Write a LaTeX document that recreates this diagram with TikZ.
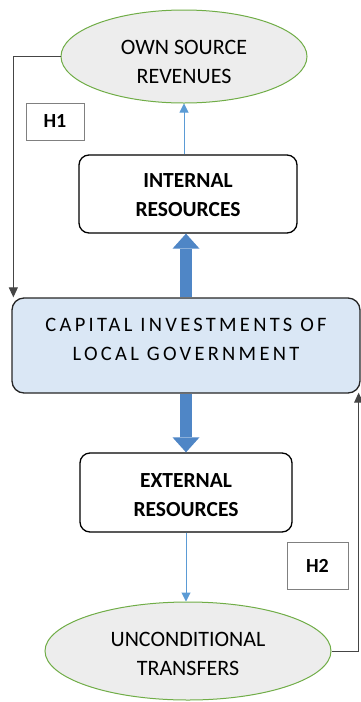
\documentclass[tikz,border=0pt]{standalone}
\usepackage{fontspec}
\setmainfont{Carlito}
\newfontfamily\handfont[LetterSpace=16]{Carlito}
\usetikzlibrary{arrows.meta,shapes.geometric}

\definecolor{ovalfill}{HTML}{EDEDED}
\definecolor{ovalline}{HTML}{70AD47}
\definecolor{capfill}{HTML}{DAE7F5}
\definecolor{flowblue}{HTML}{5B9BD5}
\definecolor{bigblue}{HTML}{4F86C6}
\definecolor{linkgray}{HTML}{454545}

% invisible struts to push a text block down (top) or up (bottom)
\newcommand{\toppad}[1]{\rule{0pt}{#1}}
\newcommand{\botpad}[1]{\rule[-#1]{0pt}{#1}}

\tikzset{
  oval/.style={ellipse, draw=ovalline, fill=ovalfill, line width=1pt,
    inner sep=0pt, align=center, font=\fontsize{22}{29}\selectfont},
  resbox/.style={rectangle, rounded corners=10pt, draw, line width=1.3pt,
    inner sep=0pt, align=center, font=\fontsize{21.5}{29}\selectfont\bfseries},
  capbox/.style={rectangle, rounded corners=12pt, draw=black!85, fill=capfill,
    line width=1.3pt, inner sep=0pt, align=center,
    font=\fontsize{20.5}{29}\selectfont\handfont},
  hbox/.style={rectangle, draw=gray, line width=1pt, inner sep=0pt,
    font=\fontsize{20}{24}\selectfont\bfseries},
  thinarrow/.style={flowblue, line width=1pt, -{Triangle[length=9pt,width=9pt]}},
  fatarrow/.style={bigblue, line width=12pt,
    -{Triangle[length=15pt,width=27pt,line width=0pt]}},
  link/.style={linkgray, line width=1pt, -{Triangle[length=10pt,width=9pt]}}
}

\begin{document}
\begin{tikzpicture}[x=1pt,y=-1pt]
  \useasboundingbox (0,0) rectangle (360,702);

  % outcomes: the two ovals
  \node[oval, minimum width=246pt, minimum height=93pt] (ownrev) at (184,56.5)
    {\toppad{24.5pt}OWN SOURCE\\REVENUES};
  \node[oval, minimum width=286pt, minimum height=98pt] (transfers) at (188,651)
    {\toppad{20.5pt}UNCONDITIONAL\\TRANSFERS};

  % resources
  \node[resbox, minimum width=218pt, minimum height=78pt] (internal) at (188,194)
    {\toppad{17pt}INTERNAL\\RESOURCES};
  \node[resbox, minimum width=212pt, minimum height=79pt] (external) at (186,492.5)
    {\toppad{20pt}EXTERNAL\\RESOURCES};

  % central box
  \node[capbox, minimum width=348pt, minimum height=95pt] (capital) at (186,345.5)
    {CAPITAL INVESTMENTS OF\\LOCAL GOVERNMENT\botpad{13pt}};

  % hypothesis tags
  \node[hbox, minimum width=58pt, minimum height=37pt] (hone) at (55,121.5) {H1};
  \node[hbox, minimum width=61pt, minimum height=47pt] (htwo) at (317.5,565.5) {H2};

  % thick arrows out of the central box
  \draw[fatarrow] (capital.north) -- (capital.north |- internal.south);
  \draw[fatarrow] (capital.south) -- (capital.south |- external.north);

  % thin arrows to the ovals
  \draw[thinarrow] (internal.north -| ownrev.south) -- (ownrev.south);
  \draw[thinarrow] (external.south) -- (external.south |- transfers.north);

  % feedback links
  \draw[link] (ownrev.west) -| ([xshift=2pt]capital.north west);
  \draw[link] (transfers.east) -| ([xshift=-2pt,yshift=1pt]capital.south east);
\end{tikzpicture}
\end{document}
